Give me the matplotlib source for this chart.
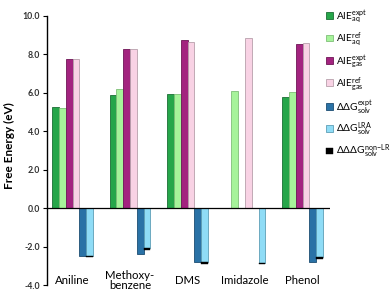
import numpy as np
import matplotlib.pyplot as plt

plt.rcParams['font.family'] = ['Lato', 'DejaVu Sans']
plt.rcParams['mathtext.fontset'] = 'custom'
plt.rcParams['mathtext.rm'] = 'Lato'
plt.rcParams['mathtext.it'] = 'Lato'

molecules = ['Aniline', 'Methoxy-\nbenzene', 'DMS', 'Imidazole', 'Phenol']

# values (eV); nan = not shown
aie_aq_expt = [5.25, 5.86, 5.91, np.nan, 5.77]
aie_aq_ref = [5.22, 6.16, 5.91, 6.08, 6.01]
aie_gas_expt = [7.72, 8.25, 8.72, np.nan, 8.53]
aie_gas_ref = [7.72, 8.25, 8.64, 8.84, 8.55]
ddg_expt = [-2.47, -2.39, -2.79, np.nan, -2.79]
ddg_lra = [-2.50, -2.09, -2.82, -2.85, -2.54]
dddg_nonlr = [-0.06, -0.07, -0.10, -0.08, -0.09]

series = [aie_aq_expt, aie_aq_ref, aie_gas_expt, aie_gas_ref, ddg_expt, ddg_lra]
labels = [r'AIE$^{\mathrm{expt}}_{\mathrm{aq}}$', r'AIE$^{\mathrm{ref}}_{\mathrm{aq}}$',
          r'AIE$^{\mathrm{expt}}_{\mathrm{gas}}$', r'AIE$^{\mathrm{ref}}_{\mathrm{gas}}$',
          r'$\Delta\Delta$G$^{\mathrm{expt}}_{\mathrm{solv}}$',
          r'$\Delta\Delta$G$^{\mathrm{LRA}}_{\mathrm{solv}}$',
          r'$\Delta\Delta\Delta$G$^{\mathrm{non\!-\!LR}}_{\mathrm{solv}}$']
colors = ['#26a64a', '#a6f39a', '#a3237f', '#f8d2e4', '#2a72a6', '#8fdcf6', '#000000']
edges = ['#1b6e34', '#7fbf78', '#6e1656', '#b8a0ab', '#1c4d72', '#5d9fb6', '#000000']

fig = plt.figure(figsize=(3.92, 2.91), dpi=100)
ax = fig.add_axes([0.12, 0.0206, 0.722, 0.926])

x = np.arange(len(molecules))
w = 0.118
handles = []
for i, vals in enumerate(series):
    b = ax.bar(x + (i - 2.5) * w, vals, w, color=colors[i], edgecolor=edges[i], linewidth=0.6)
    handles.append(b)
b = ax.bar(x + 2.5 * w, dddg_nonlr, w, bottom=ddg_lra, color=colors[6], edgecolor=edges[6], linewidth=0.3)
handles.append(b)

ax.axhline(0, color='black', linewidth=0.9)
ax.set_xlim(-0.443, 4.478)
ax.set_ylim(-4, 10)
ax.set_yticks(np.arange(-4, 11, 2))
ax.set_yticklabels(['%.1f' % v for v in np.arange(-4, 11, 2)], fontsize=6.3, fontweight='bold', color='#333333')
ax.tick_params(axis='y', length=3, width=0.8, pad=2)
ax.set_xticks([])
for s in ['top', 'right', 'bottom']:
    ax.spines[s].set_visible(False)
ax.spines['left'].set_linewidth(1.0)
ax.patch.set_alpha(0)

for xi, name in zip(x, molecules):
    ax.text(xi, -3.76, name, ha='center', va='center', fontsize=8.2, linespacing=0.95)

fig.text(0.025, 0.5, 'Free Energy (eV)', rotation=90, ha='center', va='center',
         fontsize=8.5, fontweight='bold')

leg = fig.legend(handles, labels, loc='upper left', bbox_to_anchor=(0.822, 0.985),
                 frameon=False, fontsize=7.3, handlelength=0.65, handleheight=0.65,
                 handletextpad=0.3, labelspacing=0.5, borderaxespad=0)

fig.savefig('out.png', dpi=100)
